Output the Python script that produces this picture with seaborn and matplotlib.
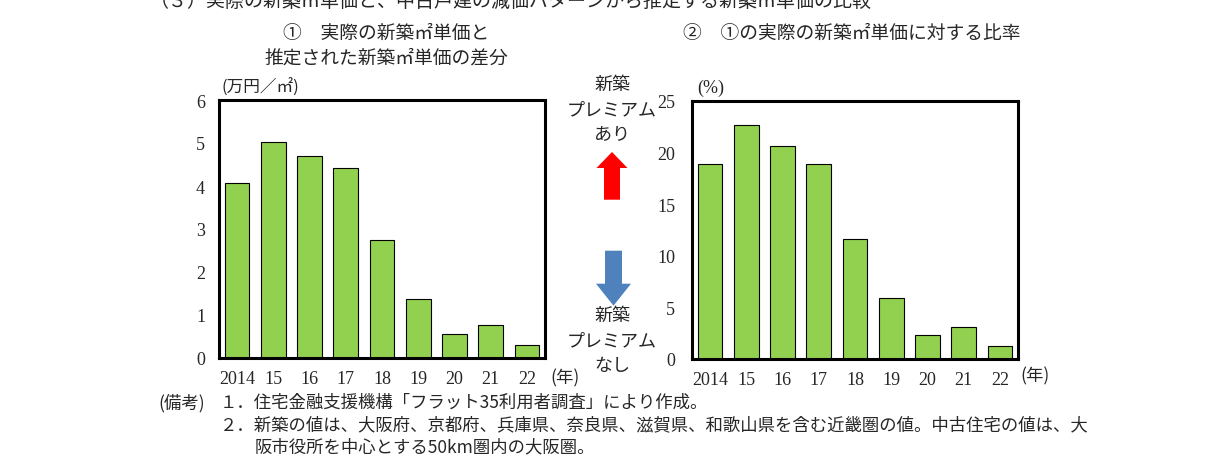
import matplotlib
matplotlib.use("Agg")
import matplotlib.pyplot as plt
import seaborn as sns
from matplotlib.patches import FancyArrow

years = ["2014", "15", "16", "17", "18", "19", "20", "21", "22"]
diff_vals = [4.06, 5.03, 4.70, 4.42, 2.74, 1.38, 0.56, 0.77, 0.30]
ratio_vals = [18.9, 22.7, 20.6, 18.9, 11.65, 5.87, 2.29, 3.06, 1.23]

W, H = 1229, 464
GREEN = "#92D050"
JP = ["Noto Sans CJK JP", "DejaVu Sans"]
NUM = ["Liberation Serif", "DejaVu Serif"]

sns.set_style("white")
plt.rcParams["font.family"] = JP

fig = plt.figure(figsize=(W / 100, H / 100), dpi=100)


def fx(x):
    return x / W


def fy(y):
    return 1 - y / H


def make_axes(left, right, top, bottom):
    return fig.add_axes([fx(left), fy(bottom), fx(right) - fx(left), fy(top) - fy(bottom)])


def style_axes(ax, ymax, step, pad):
    ax.set_ylim(0, ymax)
    ax.set_xlim(-0.5, len(years) - 0.5)
    ax.set_yticks(range(0, ymax + 1, step))
    ax.set_xlabel("")
    ax.set_ylabel("")
    for s in ax.spines.values():
        s.set_visible(True)
        s.set_color("black")
        s.set_linewidth(2.2)
    ax.tick_params(axis="y", direction="in", length=3, width=1, pad=pad, labelsize=13)
    ax.tick_params(axis="x", length=0, pad=9, labelsize=13)
    for lab in ax.get_xticklabels() + ax.get_yticklabels():
        lab.set_family(NUM)


ax1 = make_axes(219, 545, 101, 359)
sns.barplot(x=years, y=diff_vals, color=GREEN, saturation=1, edgecolor="black",
            linewidth=0.8, width=0.68, ax=ax1)
style_axes(ax1, 6, 1, 10)

ax2 = make_axes(692, 1018, 102, 360)
sns.barplot(x=years, y=ratio_vals, color=GREEN, saturation=1, edgecolor="black",
            linewidth=0.8, width=0.68, ax=ax2)
style_axes(ax2, 25, 5, 12)


def txt(x, y, s, size=13, ha="center", va="center", family=JP):
    fig.text(fx(x), fy(y), s, fontsize=size, ha=ha, va=va, family=family)


# headings (top line is cut off in the original as well)
txt(150, 1, "（３）実際の新築㎡単価と、中古戸建の減価パターンから推定する新築㎡単価の比較",
    size=13.7, ha="left")
txt(386, 33, "①　実際の新築㎡単価と", size=13.5)
txt(386, 58, "推定された新築㎡単価の差分", size=13.5)
txt(852, 33, "②　①の実際の新築㎡単価に対する比率", size=13.5)

# units
txt(222, 88, "(万円／㎡)", size=12, ha="left")
txt(697, 88, "(%)", size=13, ha="left", family=NUM)
txt(550, 378, "(年)", size=12.5, ha="left")
txt(1020, 376, "(年)", size=12.5, ha="left")

# premium labels
for y, s in zip([85, 110, 135], ["新築", "プレミアム", "あり"]):
    txt(612, y, s, size=13)
for y, s in zip([316, 341, 366], ["新築", "プレミアム", "なし"]):
    txt(612, y, s, size=13)

# notes
txt(158, 403, "(備考)", size=12.5, ha="left")
txt(220, 403, "１．住宅金融支援機構「フラット35利用者調査」により作成。", size=12.5, ha="left")
txt(220, 425, "２．新築の値は、大阪府、京都府、兵庫県、奈良県、滋賀県、和歌山県を含む近畿圏の値。中古住宅の値は、大",
    size=12.5, ha="left")
txt(255, 447, "阪市役所を中心とする50km圏内の大阪圏。", size=12.5, ha="left")

# arrows
over = fig.add_axes([0, 0, 1, 1])
over.set_xlim(0, W)
over.set_ylim(H, 0)
over.axis("off")
over.add_patch(FancyArrow(612, 200.7, 0, -47.7, width=16, head_width=31, head_length=16,
                          length_includes_head=True, color="#FF0000", lw=0))
over.add_patch(FancyArrow(613.5, 251.7, 0, 55, width=17, head_width=35, head_length=22,
                          length_includes_head=True, color="#4F81BD", lw=0))

fig.savefig("out.png", dpi=100)
